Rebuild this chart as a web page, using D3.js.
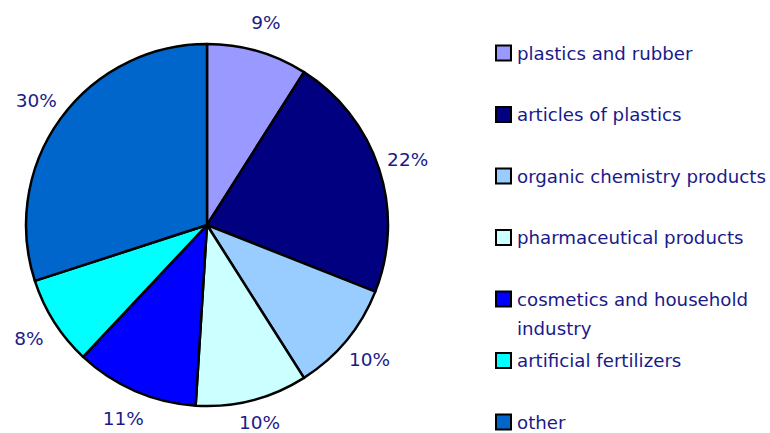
<!DOCTYPE html>
<html>
<head>
<meta charset="utf-8">
<script src="https://unpkg.com/d3@7/dist/d3.min.js"></script>
<style>
  body { margin: 0; background: #fff; }
  text { font-family: "DejaVu Sans", sans-serif; }
</style>
</head>
<body>
<div id="chart"></div>
<script>
// data
const categories = ["plastics and rubber", "articles of plastics", "organic chemistry products",
  "pharmaceutical products", "cosmetics and household industry", "artificial fertilizers", "other"];
const shares = [9, 22, 10, 10, 11, 8, 30];
const colors = ["#9999FF", "#000080", "#99CCFF", "#CCFFFF", "#0000FF", "#00FFFF", "#0066CC"];
const legendLines = [["plastics and rubber"], ["articles of plastics"], ["organic chemistry products"],
  ["pharmaceutical products"], ["cosmetics and household", "industry"], ["artificial fertilizers"], ["other"]];

const w = 770, h = 433;
const cx = 207, cy = 225, r = 181;
const textColor = "#1a1a8a";

const svg = d3.select("#chart").append("svg")
  .attr("width", w)
  .attr("height", h);

const data = categories.map((c, i) => ({ name: c, value: shares[i], color: colors[i] }));

const pie = d3.pie().value(d => d.value).sort(null);
const arc = d3.arc().innerRadius(0).outerRadius(r);
const labelArc = d3.arc().innerRadius(211).outerRadius(211);

const g = svg.append("g").attr("transform", `translate(${cx},${cy})`);
const arcs = pie(data);

g.selectAll("path")
  .data(arcs)
  .enter()
  .append("path")
  .attr("d", arc)
  .attr("fill", d => d.data.color)
  .attr("stroke", "black")
  .attr("stroke-width", 2.5)
  .attr("stroke-linejoin", "round");

g.selectAll("text.pct")
  .data(arcs)
  .enter()
  .append("text")
  .attr("class", "pct")
  .attr("x", d => labelArc.centroid(d)[0])
  .attr("y", d => Math.min(labelArc.centroid(d)[1], 197))
  .attr("text-anchor", "middle")
  .attr("dominant-baseline", "central")
  .attr("font-size", 18.5)
  .attr("fill", textColor)
  .text(d => d.data.value + "%");

// legend
const legendY = d3.scalePoint().domain(d3.range(categories.length)).range([53, 422]);

const legend = svg.append("g");
const rows = legend.selectAll("g")
  .data(data)
  .enter()
  .append("g")
  .attr("transform", (d, i) => `translate(495,${legendY(i)})`);

rows.append("rect")
  .attr("x", 1)
  .attr("y", -7.5)
  .attr("width", 15)
  .attr("height", 15)
  .attr("fill", d => d.color)
  .attr("stroke", "black")
  .attr("stroke-width", 2);

rows.each(function(d, i) {
  const t = d3.select(this).append("text")
    .attr("x", 22)
    .attr("y", 0)
    .attr("font-size", 18.2)
    .attr("fill", textColor);
  legendLines[i].forEach((line, j) => {
    t.append("tspan")
      .attr("x", 22)
      .attr("y", j * 29)
      .attr("dominant-baseline", "central")
      .text(line);
  });
});
</script>
</body>
</html>
